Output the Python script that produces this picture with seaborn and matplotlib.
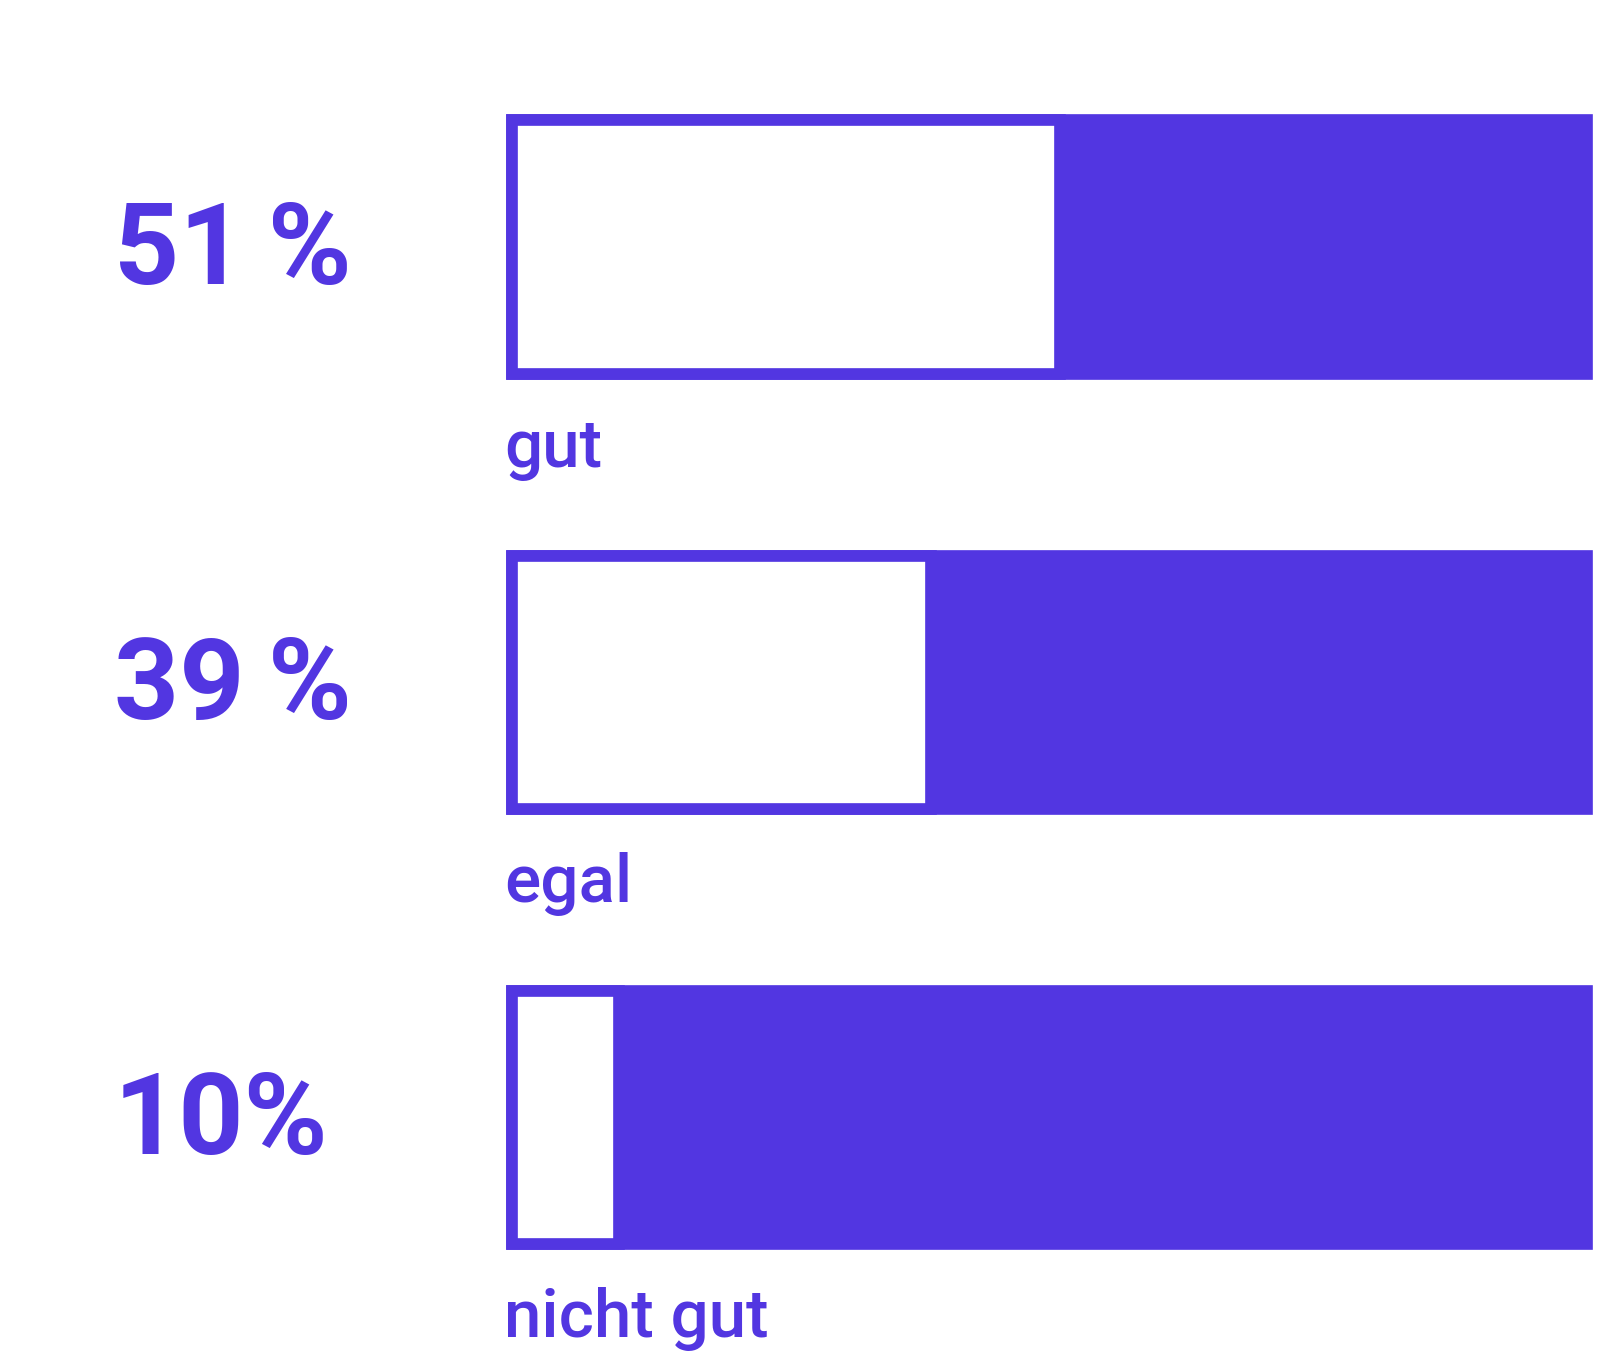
import matplotlib
matplotlib.use("Agg")
import matplotlib.pyplot as plt
import matplotlib.transforms as mtransforms
import pandas as pd
import seaborn as sns

# data
answers = ["gut", "egal", "nicht gut"]
shares = [51, 39, 10]
share_labels = ["51\u2009%", "39\u2009%", "10%"]
full_scale = [100, 100, 100]

PURPLE = "#5236E1"
EDGE_LW = 8.4

sns.set_theme(style="white")
plt.rcParams["font.family"] = ["Roboto", "DejaVu Sans"]

df = pd.DataFrame({"answer": answers, "share": shares, "full": full_scale})

fig = plt.figure(figsize=(16, 13.72), dpi=100)
ax = fig.add_axes([0.3199, 0.0269, 0.6719, 0.9517])

# purple background bar spanning the whole scale
sns.barplot(data=df, x="full", y="answer", orient="h", color=PURPLE,
            saturation=1, width=0.582, edgecolor=PURPLE, linewidth=EDGE_LW,
            ax=ax)
# white share bar with purple outline on top
sns.barplot(data=df, x="share", y="answer", orient="h", color="white",
            saturation=1, width=0.582, edgecolor=PURPLE, linewidth=EDGE_LW,
            ax=ax)
for p in ax.patches:
    p.set_clip_on(False)
    p.set_joinstyle("miter")

ax.set_xlim(0, 100)
ax.set_ylim(2.5, -0.5)
ax.set_axis_off()

trans = mtransforms.blended_transform_factory(fig.transFigure, ax.transData)
for i, (ans, lab) in enumerate(zip(answers, share_labels)):
    ax.text(0.071, i + 0.085, lab, transform=trans, ha="left", va="baseline",
            fontsize=82, fontweight="bold", color=PURPLE)
    ax.text(0.315, i + 0.505, ans, transform=trans, ha="left", va="baseline",
            fontsize=48.5, fontweight="medium", color=PURPLE)

fig.savefig("out.png", dpi=100, facecolor="white")
